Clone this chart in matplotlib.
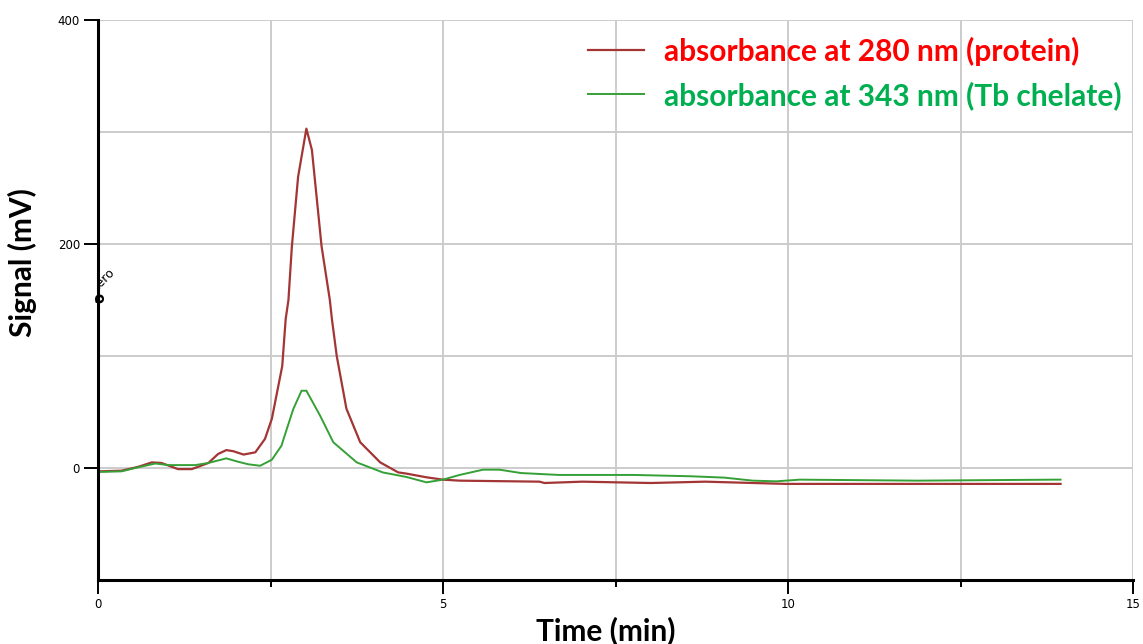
import numpy as np
import matplotlib.pyplot as plt
from matplotlib.ticker import MultipleLocator

# time (min) / signal (mV)
t_280 = [0.0, 0.34, 0.58, 0.78, 0.92, 1.16, 1.36, 1.60, 1.74, 1.86, 1.96, 2.11, 2.28, 2.42,
         2.52, 2.67, 2.72, 2.76, 2.81, 2.90, 3.02, 3.10, 3.24, 3.36, 3.39, 3.46, 3.60,
         3.80, 4.09, 4.35, 4.47, 4.76, 5.0, 5.24, 6.4, 6.47, 7.02, 8.01, 8.8, 9.97, 13.95]
sig_280 = [-3, -2.4, 1, 5, 4.5, -1, -1, 4.5, 12.5, 16, 15, 12, 14, 26,
           44, 91, 133, 150, 198, 260, 303, 284, 198, 150, 133, 100, 53,
           23, 5, -3.9, -5, -8.3, -10.4, -11.3, -12.2, -13.4, -12.2, -13.4, -12.2, -14.2, -14.2]

t_343 = [0.0, 0.34, 0.58, 0.83, 1.02, 1.41, 1.60, 1.86, 2.03, 2.18, 2.35, 2.52, 2.66,
         2.69, 2.83, 2.95, 3.02, 3.22, 3.41, 3.75, 4.13, 4.47, 4.76, 5.0, 5.24, 5.58,
         5.82, 6.13, 6.68, 7.77, 8.6, 9.08, 9.49, 9.83, 10.17, 11.88, 13.87, 13.95]
sig_343 = [-3.5, -3, 0.6, 4, 2.6, 2.6, 4.5, 8.6, 5.6, 3.3, 2, 7.4, 20,
           26, 52.6, 69, 69, 46.6, 23, 5, -4, -8, -12.8, -10.4, -6.2, -1.5,
           -1.5, -4.5, -6.2, -6.2, -7.4, -8.6, -11.3, -11.9, -10.4, -11.3, -10.4, -10.4]

label_280 = "absorbance at 280 nm (protein)"
label_343 = "absorbance at 343 nm (Tb chelate)"

fig = plt.figure(figsize=(11.43, 6.44), dpi=100)
ax = fig.add_axes([98 / 1143, 1 - 580 / 644, 1035 / 1143, 560 / 644])

ax.plot(t_280, sig_280, color='#A33535', lw=1.6, label=label_280)
ax.plot(t_343, sig_343, color='#35A035', lw=1.4, label=label_343)

ax.set_xlim(0, 15)
ax.set_ylim(-100, 400)
ax.xaxis.set_major_locator(MultipleLocator(5))
ax.xaxis.set_minor_locator(MultipleLocator(2.5))
ax.yaxis.set_major_locator(MultipleLocator(200))
ax.yaxis.set_minor_locator(MultipleLocator(100))
ax.grid(True, which='both', color='#cccccc', lw=1.4)
ax.set_axisbelow(True)

for s in ['top', 'right']:
    ax.spines[s].set_visible(False)
for s in ['left', 'bottom']:
    ax.spines[s].set_linewidth(2.2)

ax.tick_params(which='major', length=10, width=1.4, labelsize=8.5, pad=3)
ax.tick_params(axis='x', which='minor', length=5, width=1.4)
ax.tick_params(axis='y', which='minor', length=0)

ax.set_xlabel('Time (min)', family='Lato', weight='bold', fontsize=21.5)
ax.xaxis.set_label_coords(0.491, -0.064, transform=ax.transAxes)
ax.xaxis.label.set_va('top')
ax.set_ylabel('Signal (mV)', family='Lato', weight='bold', fontsize=21.5, labelpad=15)
ax.yaxis.label.set_y(0.566)

# stray annotation from the acquisition software
ax.text(-0.12, 158, 'zero', rotation=45, fontsize=9, clip_on=True)
ax.text(0.02, 152, 'ə', fontsize=11, weight='bold', ha='center', va='center', rotation=90)

leg = ax.legend(loc='upper right', bbox_to_anchor=(1 - 11 / 1035, 0.97), frameon=False,
                borderaxespad=0, borderpad=0,
                prop={'family': 'Lato', 'weight': 'bold', 'size': 21.5},
                labelcolor=['#FF0000', '#00B050'], handlelength=1.9,
                handletextpad=0.67, labelspacing=0.5)

fig.savefig('out.png', dpi=100)
